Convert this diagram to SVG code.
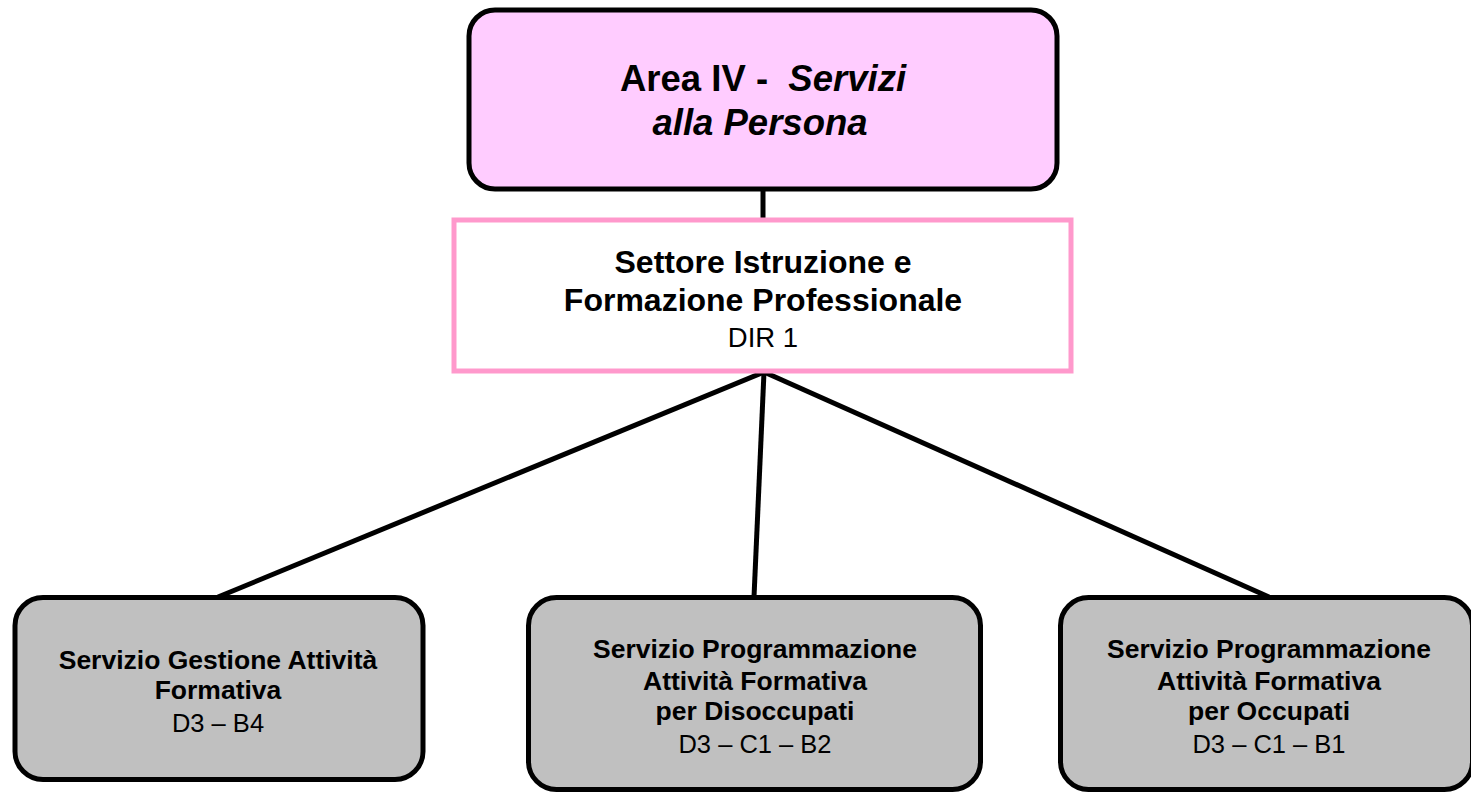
<svg xmlns="http://www.w3.org/2000/svg" width="1471" height="792" viewBox="0 0 1471 792">
<style>
text{font-family:"Liberation Sans",Arial,sans-serif;fill:#000;text-anchor:middle}
.b{font-weight:bold}
.i{font-style:italic}
.t{font-size:36.5px}
.s{font-size:32px}
.n{font-size:26.5px}
.r{font-size:25.5px}
.d{font-size:27.5px}
.box{fill:#C0C0C0;stroke:#000;stroke-width:5}
.conn{stroke:#000;stroke-width:5;fill:none}
</style>
<rect width="1471" height="792" fill="#fff"/>
<g id="connectors">
<line class="conn" x1="763" y1="190" x2="763" y2="220"/>
<line class="conn" x1="764" y1="372" x2="218" y2="597"/>
<line class="conn" x1="764" y1="372" x2="754" y2="597"/>
<line class="conn" x1="764" y1="372" x2="1269" y2="597"/>
</g>
<g id="area">
<rect x="469" y="10" width="588" height="179" rx="26" fill="#FFCCFF" stroke="#000" stroke-width="5"/>
<text class="t b" x="763" y="91" xml:space="preserve">Area IV -  <tspan class="i">Servizi</tspan></text>
<text class="t b i" x="760" y="135">alla Persona</text>
</g>
<g id="settore">
<rect x="454" y="220" width="617" height="151" fill="#fff" stroke="#FF99CC" stroke-width="5"/>
<text class="s b" x="763" y="273">Settore Istruzione e</text>
<text class="s b" x="763" y="311">Formazione Professionale</text>
<text class="d" x="763" y="347">DIR 1</text>
</g>
<g id="gestione">
<rect class="box" x="15" y="597.5" width="408" height="182" rx="28"/>
<text class="n b" x="218" y="669">Servizio Gestione Attività</text>
<text class="n b" x="218" y="699">Formativa</text>
<text class="r" x="218" y="732">D3 – B4</text>
</g>
<g id="disoccupati">
<rect class="box" x="528.5" y="597.5" width="452" height="192" rx="28"/>
<text class="n b" x="755" y="658">Servizio Programmazione</text>
<text class="n b" x="755" y="690">Attività Formativa</text>
<text class="n b" x="755" y="720">per Disoccupati</text>
<text class="r" x="755" y="753">D3 – C1 – B2</text>
</g>
<g id="occupati">
<rect class="box" x="1060.5" y="597.5" width="412" height="192" rx="28"/>
<text class="n b" x="1269" y="658">Servizio Programmazione</text>
<text class="n b" x="1269" y="690">Attività Formativa</text>
<text class="n b" x="1269" y="720">per Occupati</text>
<text class="r" x="1269" y="753">D3 – C1 – B1</text>
</g>
</svg>
